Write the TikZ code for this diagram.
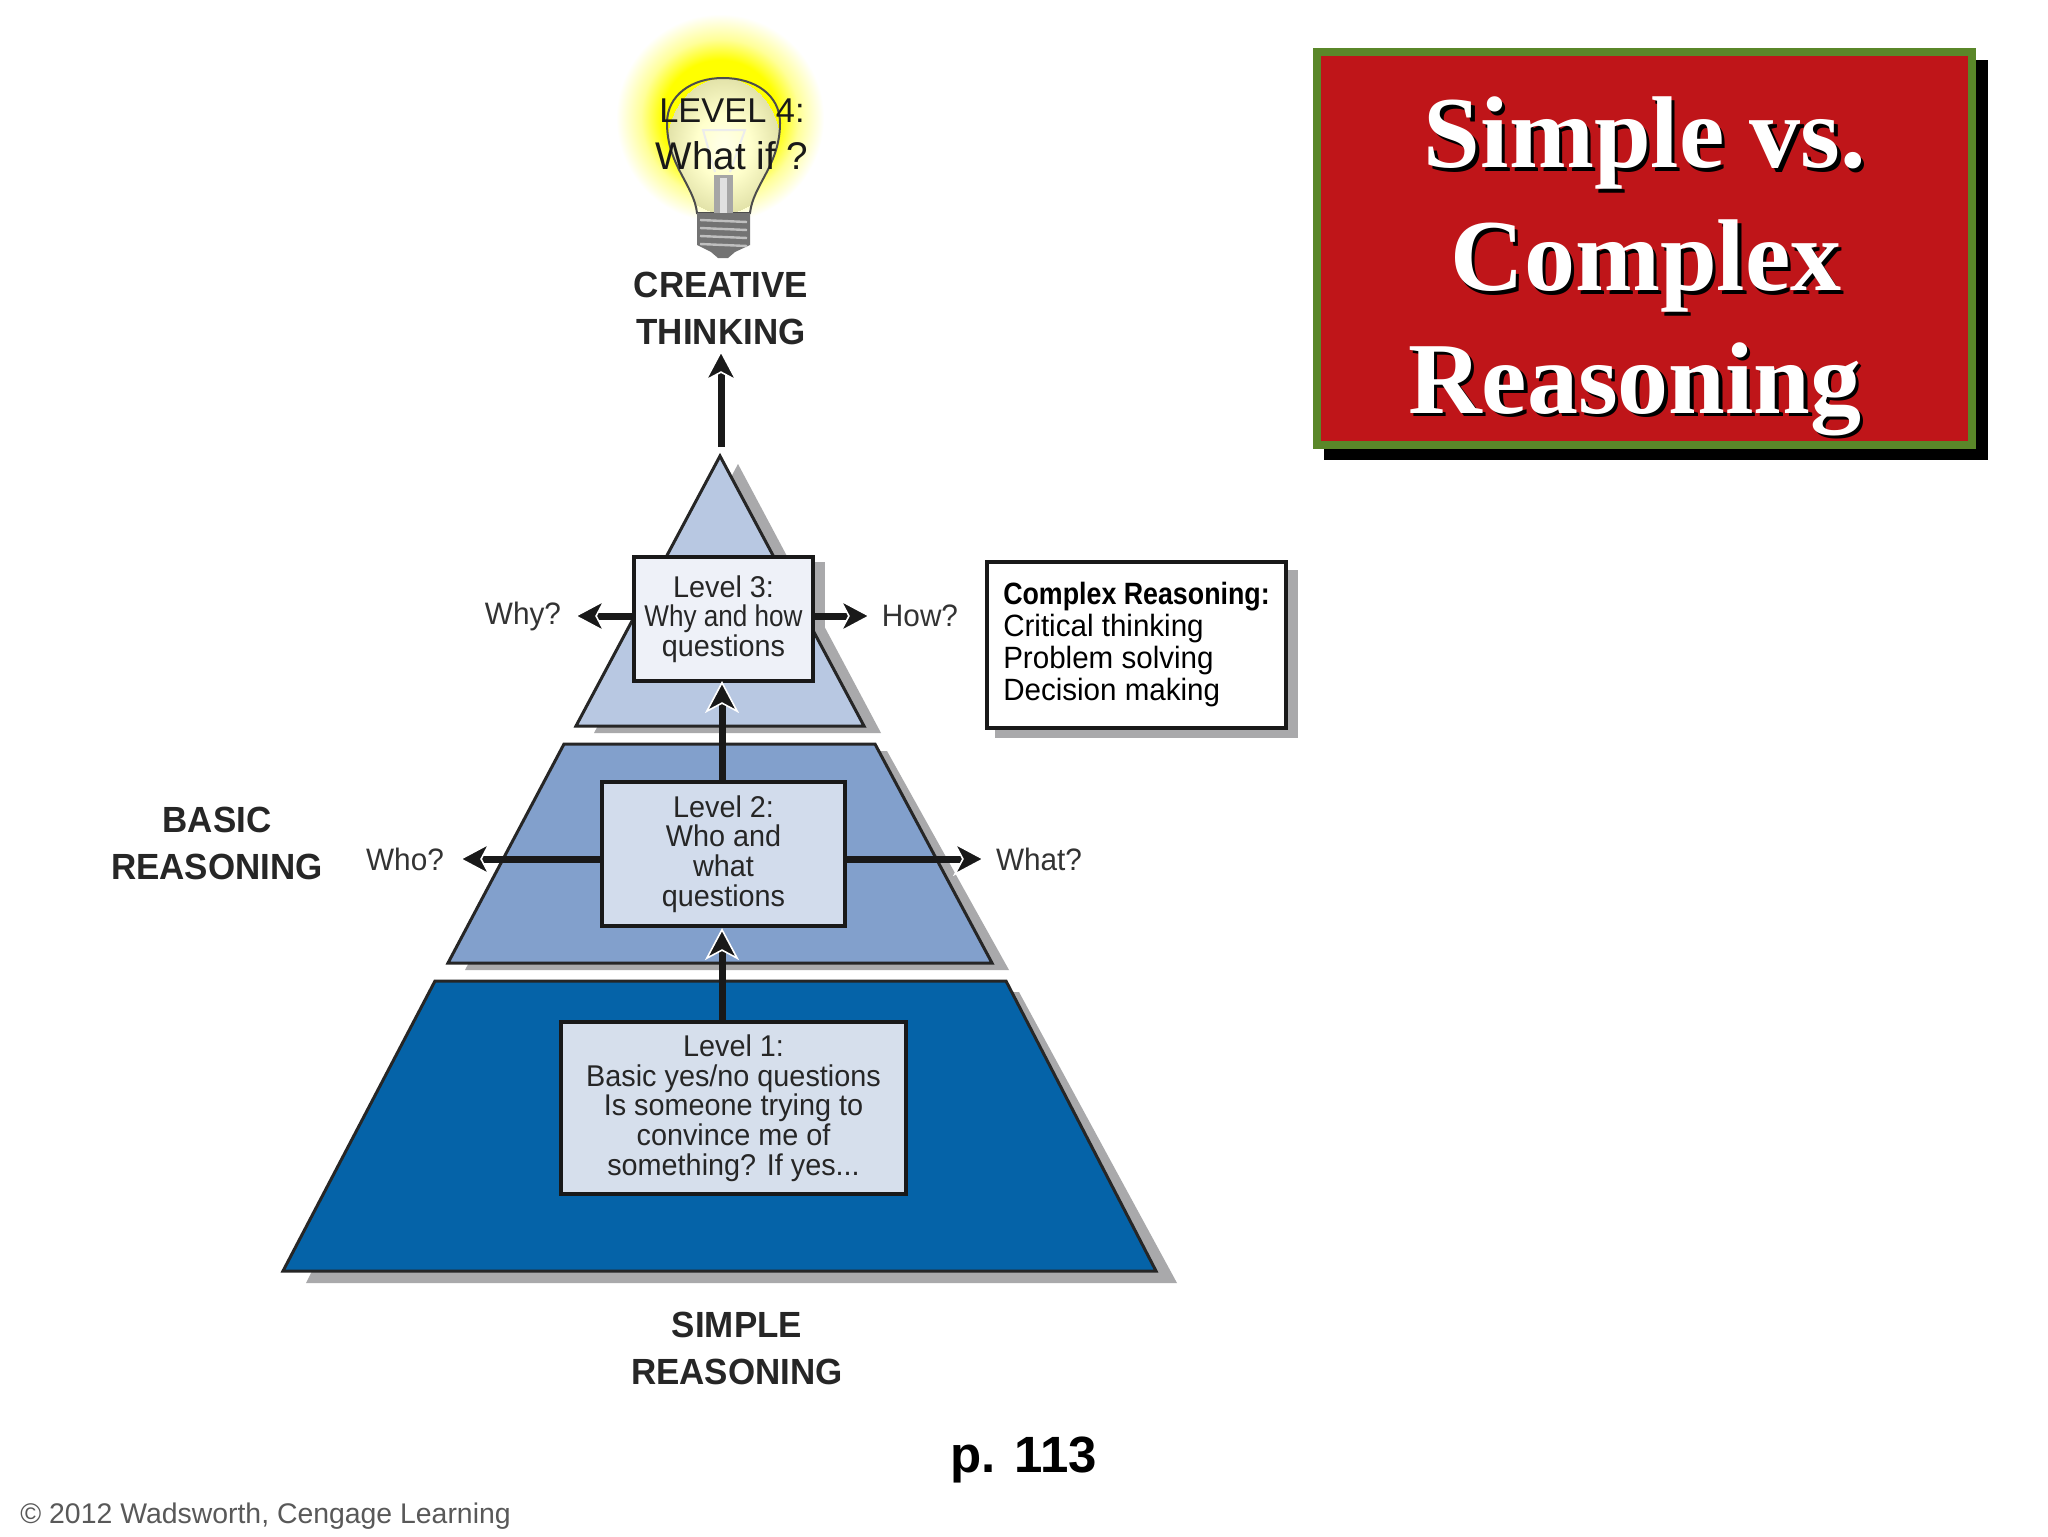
\documentclass[tikz,border=0pt]{standalone}
\usepackage{fontspec}
\usetikzlibrary{arrows.meta}
\setmainfont{Liberation Sans}
\newfontfamily\gothic[FakeStretch=0.96]{Liberation Sans}
\newfontfamily\gothicnarrow[FakeStretch=0.87]{Liberation Sans}
\newfontfamily\titlefont{Liberation Serif}
\definecolor{tierone}{HTML}{0563A8}
\definecolor{tiertwo}{HTML}{82A0CC}
\definecolor{tierthree}{HTML}{B8C8E2}
\definecolor{boxone}{HTML}{D6DFEC}
\definecolor{boxtwo}{HTML}{D2DCEC}
\definecolor{boxthree}{HTML}{EEF1F8}
\definecolor{shadowgray}{HTML}{A9A9AB}
\definecolor{titlered}{HTML}{BF1519}
\definecolor{titlegreen}{HTML}{5A8729}
\pgfdeclareradialshading{glow}{\pgfpoint{0bp}{0bp}}{color(0bp)=(yellow); color(14bp)=(yellow); color(19bp)=(yellow!40!white); color(25bp)=(white)}
\pgfdeclareradialshading{glass}{\pgfpoint{0bp}{0bp}}{color(0bp)=(yellow!8!white); color(12bp)=(yellow!20!white); color(25bp)=(yellow!50!gray!45!white)}
\newcommand{\raisedtitle}[1]{\leavevmode\rlap{\color{black}\kern1.6pt\raisebox{-1.6pt}{#1}}#1}
\tikzset{
    levelbox/.style={draw=black!90, line width=2pt, inner sep=0pt, outer sep=0pt, align=center, font=\gothic\fontsize{15}{14.85}\selectfont, text=black!85},
    tierline/.style={draw=black!85, line width=1.5pt},
    flow/.style={draw=black!90, line width=3.5pt, -{Stealth[length=16pt,width=17pt,inset=4.5pt,color=white,fill=black!90,line width=.8pt]}},
    question/.style={font=\gothic\fontsize{15.5}{15.5}\selectfont, text=black!80, inner sep=0pt},
    heading/.style={font=\gothic\bfseries\fontsize{18.2}{23.5}\selectfont, text=black!85, align=center, inner sep=0pt},
    titleline/.style={font=\titlefont\bfseries\fontsize{51}{51}\selectfont, text=white, inner sep=0pt}
}
\begin{document}
\begin{tikzpicture}[x=0.5pt,y=-0.5pt]
\useasboundingbox (0,0) rectangle (2048,1536);
\fill[white] (0,0) rectangle (2048,1536);

\fill[black] (1324,60) rectangle (1988,460);
\fill[titlered, draw=titlegreen, line width=4pt] (1317,52) rectangle (1972,445);
\node[titleline] (simple) at (1645,145) {\raisedtitle{Simple vs.}};
\node[titleline] (complex) at (1646,268) {\raisedtitle{Complex}};
\node[titleline] (reasoning) at (1635,391) {\raisedtitle{Reasoning}};

\shade[shading=glow] (720,118) circle[radius=104];
\draw[draw=black!70, line width=1pt, shading=glass] (697,213) .. controls (694,185) and (667,165) .. (667,123) .. controls (667,95) and (692,78) .. (723,78) .. controls (755,78) and (780,95) .. (780,123) .. controls (780,165) and (753,185) .. (750,213) -- cycle;
\draw[white!85!gray, line width=1pt] (715,172) -- (703,130) -- (745,130) -- (730,172);
\fill[black!35] (714,175) rectangle (733,213);
\fill[black!12] (720,178) rectangle (727,213);
\fill[black!55] (697,213) -- (750,213) -- (750,245) -- (735,252) -- (728,258) -- (718,258) -- (711,252) -- (697,245) -- cycle;
\foreach \y in {220,228,236,244}
    \draw[black!25, line width=1.2pt] (700,\y) -- (747,\y+2);

\node[font=\fontsize{17.2}{23.5}\selectfont, align=center, inner sep=0pt, text=black!90] (levelfour) at (732,134) {LEVEL 4:\\{\fontsize{19.3}{23.5}\selectfont What if ?}};
\node[heading] (creative) at (721,308) {CREATIVE\\THINKING};
\coordinate (creativetip) at (721,350);
\coordinate (apex) at (721,447);

\fill[shadowgray] (642,562) rectangle (825,690);
\fill[shadowgray] (738,464) -- (881,733) -- (594,733) -- cycle;
\draw[tierline, fill=tierthree] (720,456) -- (864,726) -- (576,726) -- cycle;
\fill[shadowgray] (581,751) -- (887,751) -- (1009,970) -- (465,970) -- cycle;
\draw[tierline, fill=tiertwo] (564,744) -- (875,744) -- (992,963) -- (448,963) -- cycle;
\fill[shadowgray] (453,992) -- (1019,992) -- (1177,1283) -- (306,1283) -- cycle;
\draw[tierline, fill=tierone] (435,981) -- (1006,981) -- (1156,1271) -- (283,1271) -- cycle;

\node[levelbox, fill=boxthree, minimum width=89.5pt, minimum height=62pt] (levelthree) at (723.5,619) {Level 3:\\{\gothicnarrow Why and how}\\questions};
\node[levelbox, fill=boxtwo, minimum width=121.5pt, minimum height=72pt] (leveltwo) at (723.5,854) {Level 2:\\Who and\\what\\questions};
\node[levelbox, fill=boxone, minimum width=172.5pt, minimum height=86pt] (levelone) at (733.5,1108) {Level 1:\\Basic yes/no questions\\Is someone trying to\\convince me of\\something? If yes...};

\coordinate (whytip) at (574,616);
\coordinate (howtip) at (871,616);
\coordinate (whotip) at (459,859);
\coordinate (whattip) at (985,859);
\coordinate (threetip) at (722,681);
\coordinate (twotip) at (722,928);

\draw[flow] (apex) -- (creativetip);
\draw[flow] (levelthree.west |- whytip) -- (whytip);
\draw[flow] (levelthree.east |- howtip) -- (howtip);
\draw[flow] (leveltwo.west |- whotip) -- (whotip);
\draw[flow] (leveltwo.east |- whattip) -- (whattip);
\draw[flow] (threetip |- leveltwo.north) -- (threetip);
\draw[flow] (twotip |- levelone.north) -- (twotip);

\node[question] (why) at (523,616) {Why?};
\node[question] (how) at (920,616) {How?};
\node[question] (who) at (405,859) {Who?};
\node[question] (what) at (1039,859) {What?};

\fill[shadowgray] (995,570) rectangle (1298,738);
\node[levelbox, fill=white, minimum width=149.5pt, minimum height=83pt, align=left, text=black, font=\gothic\fontsize{15.4}{16}\selectfont] (complexbox) at (1136.5,645) {{\gothicnarrow\bfseries Complex Reasoning:}\\Critical thinking\\Problem solving\\Decision making};

\node[heading] (basic) at (217,843) {BASIC\\REASONING};
\node[heading] (simplereasoning) at (737,1348) {SIMPLE\\REASONING};
\node[font=\bfseries\fontsize{25.5}{25.5}\selectfont, inner sep=0pt] (page) at (1024,1460) {p. 113};
\node[font=\fontsize{14.2}{14.2}\selectfont, text=black!65, anchor=west, inner sep=0pt] (copyright) at (20,1516) {© 2012 Wadsworth, Cengage Learning};
\end{tikzpicture}
\end{document}
